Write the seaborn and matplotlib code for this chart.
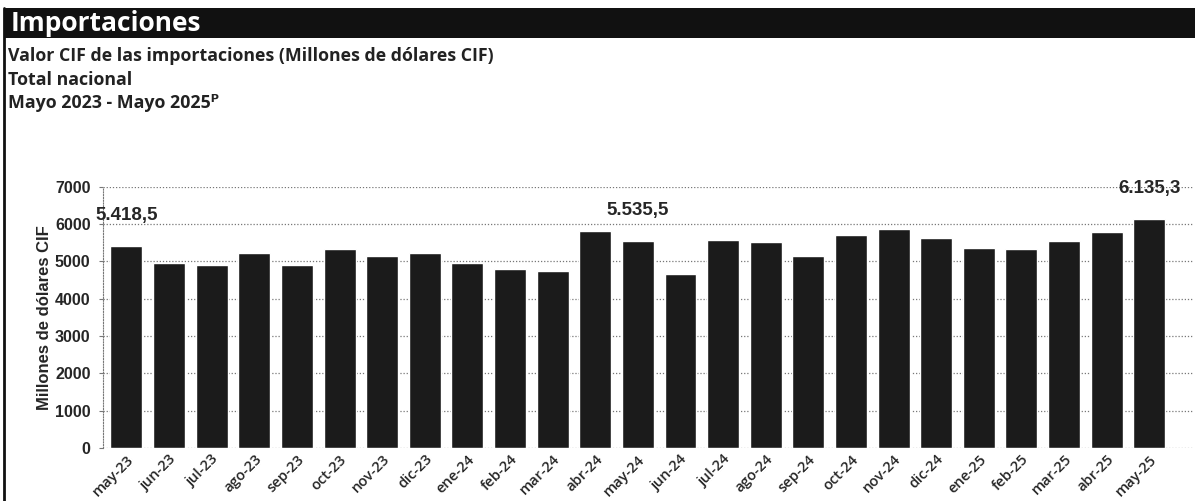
import pandas as pd
import seaborn as sns
import matplotlib.pyplot as plt
from matplotlib.lines import Line2D
from matplotlib.patches import Rectangle

# data
meses = ["may-23", "jun-23", "jul-23", "ago-23", "sep-23", "oct-23", "nov-23", "dic-23",
         "ene-24", "feb-24", "mar-24", "abr-24", "may-24", "jun-24", "jul-24", "ago-24",
         "sep-24", "oct-24", "nov-24", "dic-24", "ene-25", "feb-25", "mar-25", "abr-25", "may-25"]
valores = [5418.5, 4960, 4900, 5230, 4900, 5330, 5150, 5230,
           4960, 4800, 4750, 5820, 5535.5, 4660, 5580, 5520,
           5150, 5710, 5870, 5630, 5360, 5330, 5550, 5790, 6135.3]
etiquetas = {0: "5.418,5", 12: "5.535,5", 24: "6.135,3"}
y_ticks = [0, 1000, 2000, 3000, 4000, 5000, 6000, 7000]

df = pd.DataFrame({"mes": meses, "valor": valores})

sns.set_style("white")
plt.rcParams["font.family"] = ["Liberation Sans", "DejaVu Sans"]

fig = plt.figure(figsize=(11.95, 5.01), dpi=100)
ax = fig.add_axes([0.0862, 0.106, 0.913, 0.521])

sns.barplot(data=df, x="mes", y="valor", color="#1b1b1b", width=0.75,
            saturation=1, ax=ax)

ax.set_ylim(0, 7000)
ax.set_xlim(-0.55, len(meses) - 1 + 1.05)
ax.set_yticks(y_ticks)
ax.set_yticklabels([str(t) for t in y_ticks], fontsize=11.5, fontweight="bold")
ax.set_xticks(range(len(meses)))
ax.set_xticklabels(meses, rotation=45, ha="right", rotation_mode="anchor",
                   fontsize=10.5, fontweight="semibold", family=["Open Sans", "DejaVu Sans"])
ax.tick_params(axis="x", length=0, pad=3)
ax.tick_params(axis="y", length=3, width=0.8, color="#777777", pad=6, left=True)
ax.set_xlabel("")
ax.set_ylabel("Millones de dólares CIF", fontsize=12, fontweight="bold", labelpad=2)

ax.yaxis.grid(True, linestyle=(0, (1, 1.5)), color="#777777", linewidth=0.9)
ax.set_axisbelow(True)
for s in ["top", "right", "bottom"]:
    ax.spines[s].set_visible(False)
ax.spines["left"].set_linestyle((0, (1, 1.5)))
ax.spines["left"].set_color("#777777")

for i, txt in etiquetas.items():
    ax.annotate(txt, (i, valores[i]), xytext=(0, 22), textcoords="offset points",
                ha="center", va="center", fontsize=13.5, fontweight="bold")

# header band and titles
fig.patches.append(Rectangle((0.003, 0.924), 0.997, 0.06, transform=fig.transFigure,
                             facecolor="#111111", edgecolor="none"))
fig.lines.append(Line2D([0.003, 0.003], [0.0, 0.984], transform=fig.transFigure,
                        color="#111111", linewidth=2))
fig.text(0.009, 0.953, "Importaciones", color="white", fontsize=19, fontweight="bold",
         va="center", family=["Open Sans", "DejaVu Sans"])
sub = ["Valor CIF de las importaciones (Millones de dólares CIF)",
       "Total nacional",
       "Mayo 2023 - Mayo 2025ᴾ"]
for k, line in enumerate(sub):
    fig.text(0.007, 0.888 - k * 0.047, line, fontsize=12.8, fontweight="bold",
             va="center", color="#222222", family=["Open Sans", "DejaVu Sans"])

fig.savefig("out.png", dpi=100)
